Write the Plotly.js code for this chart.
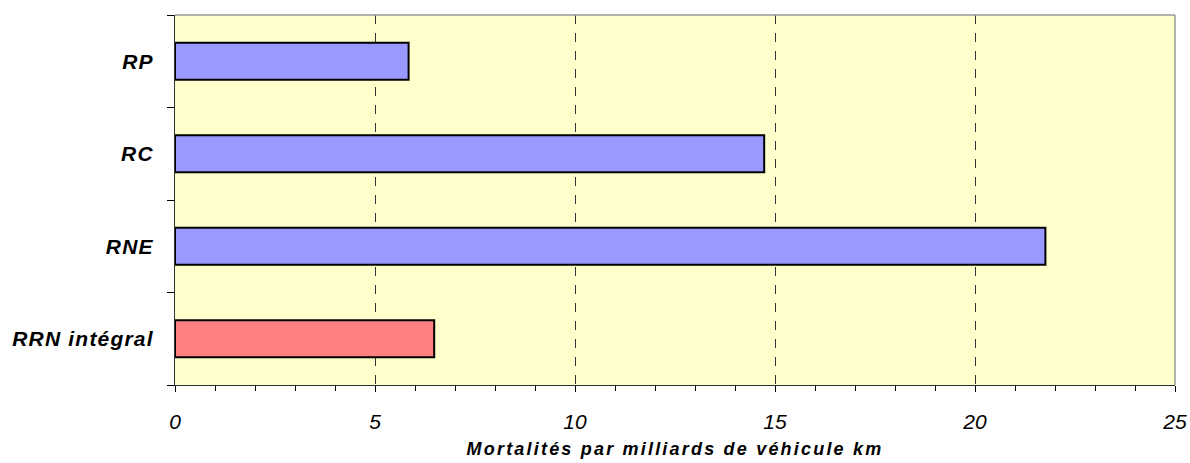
<!DOCTYPE html>
<html>
<head>
<meta charset="utf-8">
<script src="https://cdn.plot.ly/plotly-3.0.1.min.js"></script>
<style>
html,body{margin:0;padding:0;background:#fff;}
#chart{width:1190px;height:463px;}
#chart .xtitle{letter-spacing:2.2px;}
#chart .ytick text{letter-spacing:1.2px;}
</style>
</head>
<body>
<div id="chart"></div>
<script>
const categories = ['RRN intégral', 'RNE', 'RC', 'RP'];
const values = [6.48, 21.76, 14.73, 5.84];
const barColors = ['#FF8080', '#9999FF', '#9999FF', '#9999FF'];
const xTickVals = [0, 5, 10, 15, 20, 25];
const xTitle = 'Mortalités par milliards de véhicule km';

const trace = {
  type: 'bar',
  orientation: 'h',
  y: categories,
  x: values,
  marker: {color: barColors, line: {color: '#000000', width: 2}},
  hoverinfo: 'x+y'
};

const layout = {
  width: 1190, height: 463,
  margin: {l: 175, r: 15, t: 15, b: 78},
  paper_bgcolor: '#ffffff',
  plot_bgcolor: '#FFFFCC',
  showlegend: false,
  bargap: 0.6,
  font: {family: 'Liberation Sans, Arial, sans-serif', color: '#000'},
  xaxis: {
    range: [0, 25],
    tickvals: xTickVals,
    ticks: 'outside', ticklen: 6, tickcolor: '#000', tickwidth: 1,
    ticklabelstandoff: 12,
    tickfont: {size: 21, style: 'italic', color: '#000'},
    showgrid: true, gridcolor: '#333333', griddash: 'dash', gridwidth: 1,
    minor: {ticks: 'outside', dtick: 1, ticklen: 5, tickcolor: '#000', showgrid: false},
    showline: true, linecolor: '#333333', linewidth: 1,
    zeroline: false,
    fixedrange: true,
    title: {text: xTitle, font: {size: 18, weight: 'bold', style: 'italic', color: '#000'}, standoff: 10}
  },
  yaxis: {
    type: 'category',
    categoryorder: 'array', categoryarray: categories,
    tickson: 'boundaries',
    ticks: 'outside', ticklen: 7, tickcolor: '#000', tickwidth: 1,
    ticklabelstandoff: 16,
    tickfont: {size: 21, weight: 'bold', style: 'italic', color: '#000'},
    showgrid: false,
    showline: true, linecolor: '#333333', linewidth: 1,
    fixedrange: true
  },
  shapes: [
    {type: 'line', xref: 'paper', yref: 'paper', x0: 0, x1: 1, y0: 1, y1: 1, line: {color: '#999999', width: 1.5}},
    {type: 'line', xref: 'paper', yref: 'paper', x0: 1, x1: 1, y0: 0, y1: 1, line: {color: '#999999', width: 1.5}}
  ]
};

Plotly.newPlot('chart', [trace], layout, {displayModeBar: false, staticPlot: true});
</script>
</body>
</html>
